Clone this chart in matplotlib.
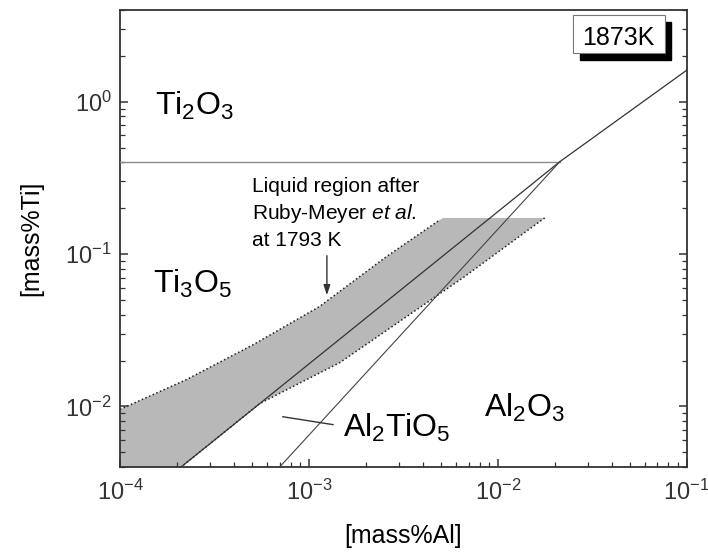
import matplotlib
matplotlib.use('Agg')
import matplotlib.pyplot as plt
from matplotlib.patches import Rectangle

plt.rcParams['font.family'] = 'Liberation Sans'
plt.rcParams['mathtext.fontset'] = 'custom'
plt.rcParams['mathtext.rm'] = 'Liberation Sans'
plt.rcParams['mathtext.it'] = 'Liberation Sans:italic'

# Ti3O5 / Al2O3 boundary (continues to top right)
lineA_al = [2.0e-4, 2.13e-2, 1.0e-1]
lineA_ti = [3.8e-3, 0.404, 1.61]
# Al2TiO5 boundary
lineB_al = [7.0e-4, 2.13e-2]
lineB_ti = [4.0e-3, 0.404]
# Ti2O3 / Ti3O5 boundary
horiz_al = [1.0e-4, 2.13e-2]
horiz_ti = [0.404, 0.404]

# liquid region after Ruby-Meyer et al. (1793 K)
liq_up_al = [1.0e-4, 2.25e-4, 5.07e-4, 1.14e-3, 2.58e-3, 4.93e-3, 5.13e-3]
liq_up_ti = [9.55e-3, 0.015, 0.0254, 0.0453, 0.0964, 0.1675, 0.1726]
liq_lo_al = [1.77e-2, 6.53e-3, 1.46e-3, 5.5e-4, 2.0e-4, 1.5e-4]
liq_lo_ti = [0.1726, 0.0698, 0.0194, 0.01045, 3.8e-3, 2.85e-3]

fig = plt.figure(figsize=(7.08, 5.53), dpi=100)
ax = fig.add_axes([0.1695, 0.1555, 0.8005, 0.8265])
ax.set_xscale('log')
ax.set_yscale('log')
ax.set_xlim(1e-4, 1e-1)
ax.set_ylim(4e-3, 4)

poly_al = liq_up_al + liq_lo_al + [1e-4]
poly_ti = liq_up_ti + liq_lo_ti + [2.8e-3]
ax.fill(poly_al, poly_ti, color='#b8b8b8', lw=0, zorder=1)
ax.plot(liq_up_al[:-1], liq_up_ti[:-1], color='#222222', lw=1.1,
        linestyle=(0, (1, 1.6)), zorder=2)
ax.plot(liq_lo_al, liq_lo_ti, color='#222222', lw=1.1,
        linestyle=(0, (1, 1.6)), zorder=2)

ax.plot(horiz_al, horiz_ti, color='#8a8a8a', lw=1.0, zorder=3)
ax.plot(lineA_al, lineA_ti, color='#333333', lw=0.9, zorder=3)
ax.plot(lineB_al, lineB_ti, color='#444444', lw=0.8, zorder=3)

# leader line for Al2TiO5
ax.plot([7.28e-4, 1.34e-3], [8.55e-3, 7.59e-3], color='#333333', lw=1.0, zorder=3)

ax.annotate('', xy=(1.245e-3, 0.0515), xytext=(1.245e-3, 0.1017),
            arrowprops=dict(arrowstyle='-|>,head_length=0.6,head_width=0.2',
                            color='#333333', lw=1.0), zorder=4)

ax.text(1.53e-4, 0.817, r'Ti$_2$O$_3$', fontsize=23, va='baseline')
ax.text(1.5e-4, 0.0556, r'Ti$_3$O$_5$', fontsize=23, va='baseline')
ax.text(8.43e-3, 8.55e-3, r'Al$_2$O$_3$', fontsize=23, va='baseline')
ax.text(1.51e-3, 6.33e-3, r'Al$_2$TiO$_5$', fontsize=23, va='baseline')

ax.text(5.0e-4, 0.255, 'Liquid region after', fontsize=15, va='baseline')
ax.text(5.0e-4, 0.171, r'Ruby-Meyer $\it{et\ al.}$', fontsize=15, va='baseline')
ax.text(5.0e-4, 0.113, 'at 1793 K', fontsize=15, va='baseline')

# temperature box with drop shadow
ax.add_patch(Rectangle((0.811, 0.891), 0.162, 0.083, transform=ax.transAxes,
                       facecolor='black', edgecolor='black', zorder=5))
ax.add_patch(Rectangle((0.799, 0.906), 0.162, 0.083, transform=ax.transAxes,
                       facecolor='white', edgecolor='#777777', lw=0.8, zorder=6))
ax.text(0.880, 0.923, '1873K', transform=ax.transAxes, fontsize=18,
        ha='center', va='baseline', zorder=7)

ax.set_xlabel('[mass%Al]', fontsize=18, labelpad=14)
ax.set_ylabel('[mass%Ti]', fontsize=18, labelpad=16)

for s in ax.spines.values():
    s.set_color('#333333')
    s.set_linewidth(1.3)
ax.tick_params(which='both', direction='in', left=True, right=True,
               bottom=True, top=False, colors='#333333', labelsize=17)
ax.tick_params(which='major', length=6, width=1.1)
ax.tick_params(which='minor', length=3.5, width=0.9)
ax.tick_params(axis='x', pad=9)
ax.tick_params(axis='y', pad=6)

fig.savefig('out.png', dpi=100)
